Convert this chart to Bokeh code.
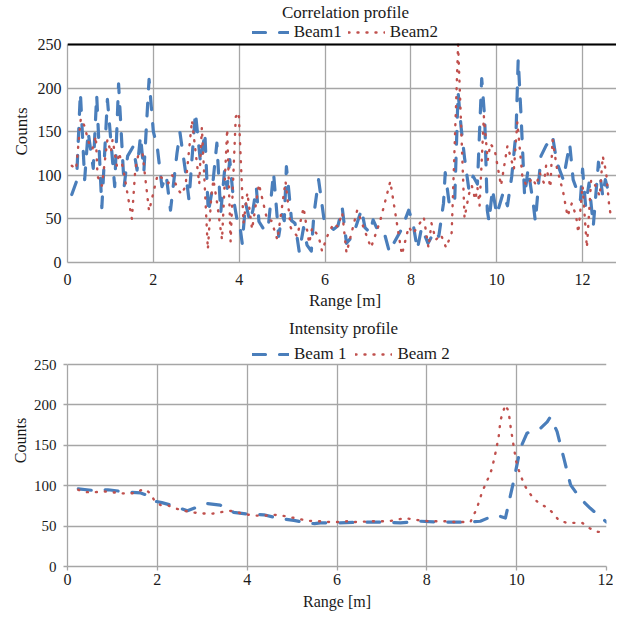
from bokeh.plotting import figure
from bokeh.layouts import column
from bokeh.models import Legend, LegendItem, Label, Span, FixedTicker, Range1d
from bokeh.embed import file_html
from bokeh.resources import INLINE

FONT = "Liberation Serif"
BLUE = "#4A7EBB"
RED = "#C0504D"
GRID = "#A6A6A6"
TXT = "#1a1a1a"

# ---------------- Correlation profile ----------------
corr_title = "Correlation profile"
corr_labels = ["Beam1", "Beam2"]
corr_x1 = [0.10, 0.21, 0.30, 0.40, 0.48, 0.60, 0.68, 0.80, 0.93, 1.10, 1.19, 1.32, 1.40, 1.53, 1.62,
           1.70, 1.78, 1.90, 2.00, 2.09, 2.20, 2.30, 2.40, 2.55, 2.62, 2.75, 2.83, 2.98, 3.10, 3.20,
           3.28, 3.37, 3.48, 3.57, 3.66, 3.72, 3.78, 3.86, 3.95, 4.00, 4.07, 4.15, 4.25, 4.32, 4.40,
           4.46, 4.60, 4.68, 4.80, 4.87, 4.92, 5.00, 5.05, 5.10, 5.16, 5.22, 5.30, 5.40, 5.50, 5.58,
           5.68, 5.74, 5.85, 5.98, 6.07, 6.20, 6.30, 6.40, 6.50, 6.60, 6.70, 6.85, 6.93, 7.05, 7.12,
           7.20, 7.30, 7.38, 7.50, 7.60, 7.78, 7.95, 8.05, 8.15, 8.25, 8.40, 8.55, 8.65, 8.76, 8.80,
           8.90, 9.02, 9.10, 9.17, 9.25, 9.35, 9.45, 9.55, 9.65, 9.72, 9.78, 9.82, 9.90, 10.00, 10.15,
           10.25, 10.35, 10.45, 10.50, 10.57, 10.65, 10.73, 10.85, 10.90, 11.03, 11.15, 11.30, 11.40,
           11.55, 11.70, 11.78, 11.95, 12.00, 12.07, 12.15, 12.25, 12.37, 12.47, 12.53, 12.65]
corr_y1 = [78, 93, 195, 95, 150, 108, 192, 63, 187, 87, 205, 87, 122, 133, 106,
           145, 105, 210, 150, 133, 87, 100, 60, 125, 149, 104, 72, 172, 114, 149,
           57, 83, 137, 57, 106, 85, 118, 75, 49, 48, 22, 68, 47, 60, 86,
           47, 36, 42, 103, 61, 30, 55, 48, 110, 80, 48, 45, 12, 40, 20,
           13, 55, 95, 48, 42, 38, 42, 63, 22, 28, 38, 61, 40, 34, 49,
           40, 41, 34, 12, 22, 38, 60, 45, 15, 40, 22, 36, 30, 68, 103,
           65, 70, 195, 155, 120, 84, 99, 90, 211, 165, 60, 47, 84, 55, 80,
           65, 99, 150, 233, 165, 76, 107, 68, 47, 122, 134, 145, 115,
           95, 136, 95, 72, 107, 65, 91, 42, 115, 76, 95, 72]
corr_x2 = [0.10, 0.20, 0.31, 0.39, 0.50, 0.58, 0.66, 0.70, 0.80, 0.93, 1.01, 1.05, 1.15, 1.20, 1.30,
           1.40, 1.50, 1.58, 1.66, 1.75, 1.90, 2.10, 2.20, 2.35, 2.44, 2.57, 2.66, 2.75, 2.90, 3.07,
           3.13, 3.27, 3.35, 3.40, 3.48, 3.60, 3.72, 3.80, 3.92, 3.99, 4.10, 4.19, 4.30, 4.46, 4.65,
           4.75, 4.89, 5.08, 5.20, 5.35, 5.50, 5.63, 5.70, 5.85, 5.93, 6.05, 6.20, 6.30, 6.40, 6.50,
           6.75, 7.07, 7.28, 7.52, 7.79, 7.95, 8.05, 8.30, 8.41, 8.48, 8.58, 8.70, 8.82, 8.95, 9.10,
           9.25, 9.35, 9.42, 9.50, 9.55, 9.60, 9.70, 9.79, 9.85, 9.95, 10.10, 10.25, 10.35, 10.40,
           10.48, 10.60, 10.70, 10.83, 10.92, 11.00, 11.10, 11.15, 11.25, 11.30, 11.40, 11.55, 11.65,
           11.75, 11.85, 11.90, 12.00, 12.10, 12.20, 12.30, 12.40, 12.47, 12.55, 12.62, 12.65]
corr_y2 = [111, 107, 165, 157, 137, 130, 145, 99, 88, 141, 126, 141, 111, 126, 107,
           78, 50, 107, 126, 124, 59, 101, 97, 91, 100, 84, 78, 88, 163, 90,
           155, 15, 76, 95, 70, 26, 153, 24, 167, 172, 45, 80, 38, 90, 49,
           48, 26, 93, 40, 30, 63, 22, 40, 30, 13, 30, 45, 41, 57, 11,
           60, 17, 47, 93, 9, 41, 33, 52, 17, 45, 26, 32, 17, 34, 250,
           51, 78, 88, 72, 86, 65, 168, 117, 136, 130, 88, 134, 116, 107,
           161, 97, 88, 97, 88, 103, 91, 111, 86, 141, 109, 80, 53,
           68, 53, 34, 88, 17, 95, 88, 76, 122, 103, 65, 56]

# ---------------- Intensity profile ----------------
int_title = "Intensity profile"
int_labels = ["Beam 1", "Beam 2"]
int_x1 = [0.24, 0.60, 0.90, 1.33, 1.63, 1.78, 1.93, 2.10, 2.30, 2.67, 3.10, 3.40, 3.70, 4.00, 4.37,
          4.67, 5.04, 5.33, 5.50, 5.63, 6.00, 6.67, 7.00, 7.41, 7.86, 8.30, 8.90, 9.19, 9.49, 9.64,
          9.75, 9.93, 10.08, 10.23, 10.53, 10.68, 10.75, 10.90, 11.05, 11.20, 11.42, 11.64, 12.00]
int_y1 = [96, 94, 95, 92, 91, 88, 81, 79, 76, 69, 78, 76, 67, 65, 64,
          60, 57, 54, 53, 54, 54, 55, 55, 54, 56, 55, 55, 56, 63, 62,
          60, 105, 146, 165, 171, 179, 185, 167, 134, 101, 84, 72, 55]
int_x2 = [0.24, 0.40, 0.63, 0.80, 0.96, 1.15, 1.33, 1.50, 1.70, 1.84, 1.93, 2.07, 2.22, 2.40, 2.60,
          2.78, 2.96, 3.15, 3.33, 3.48, 3.67, 3.85, 4.04, 4.20, 4.40, 4.60, 4.78, 4.96, 5.15, 5.30,
          5.48, 5.63, 5.85, 6.00, 6.22, 6.40, 6.78, 6.96, 7.15, 7.33, 7.52, 7.70, 8.04, 8.22, 8.45,
          8.60, 8.80, 8.97, 9.04, 9.12, 9.23, 9.30, 9.38, 9.45, 9.53, 9.60, 9.64, 9.70, 9.75, 9.82,
          9.87, 9.93, 9.99, 10.05, 10.10, 10.17, 10.27, 10.38, 10.53, 10.68, 10.83, 10.94, 11.12,
          11.30, 11.46, 11.60, 11.79, 11.98]
int_y2 = [95, 92, 92, 93, 92, 91, 90, 91, 96, 91, 82, 76, 76, 72, 69,
          67, 66, 65, 66, 68, 69, 66, 64, 63, 63, 64, 63, 61, 59, 57,
          56, 56, 55, 55, 56, 55, 56, 56, 56, 58, 60, 58, 56, 56, 56,
          55, 55, 55, 63, 73, 92, 101, 111, 121, 141, 161, 181, 192, 200, 192,
          171, 150, 130, 119, 111, 101, 92, 84, 77, 73, 65, 57, 54,
          54, 54, 48, 43, 42]

x_ticks = [0, 2, 4, 6, 8, 10, 12]
y_ticks = [0, 50, 100, 150, 200, 250]
y_max = 250
x_label = "Range [m]"
y_label = "Counts"


def make_panel(title, labels, xa, ya, xb, yb, x_end, fw, plot_h, head_h, mb, tick_out,
               xt_size, yt_size, al_size, x_std, y_std, xl_std, yl_std,
               title_xy, legend_xy, legend_spacing, top_black):
    # frame covers the plotting area plus a header strip (title + legend) above it
    fh = plot_h + head_h
    y_end = y_max * fh / plot_h
    p = figure(frame_width=fw, frame_height=fh,
               x_range=Range1d(0, x_end), y_range=Range1d(0, y_end),
               output_backend="svg", toolbar_location=None,
               min_border_left=mb[0], min_border_right=mb[1],
               min_border_top=mb[2], min_border_bottom=mb[3],
               background_fill_color="white", border_fill_color="white")
    p.outline_line_color = None
    p.xaxis.ticker = FixedTicker(ticks=x_ticks)
    p.yaxis.ticker = FixedTicker(ticks=y_ticks)
    p.yaxis.bounds = (0, y_max)
    p.xgrid.cross_bounds = (0, y_max)
    p.grid.grid_line_color = GRID
    p.grid.grid_line_width = 1.3
    p.axis.axis_line_color = GRID
    p.axis.axis_line_width = 1.3
    p.axis.major_tick_line_color = GRID
    p.axis.major_tick_line_width = 1.3
    p.axis.major_tick_in = 0
    p.axis.major_tick_out = tick_out
    p.axis.minor_tick_line_color = None
    p.axis.major_label_text_font = FONT
    p.axis.major_label_text_color = TXT
    p.axis.axis_label_text_font = FONT
    p.axis.axis_label_text_font_style = "normal"
    p.axis.axis_label_text_color = TXT
    p.axis.axis_label_text_font_size = al_size
    p.xaxis.major_label_text_font_size = xt_size
    p.yaxis.major_label_text_font_size = yt_size
    p.xaxis.major_label_standoff = x_std
    p.yaxis.major_label_standoff = y_std
    p.xaxis.axis_label_standoff = xl_std
    p.yaxis.axis_label_standoff = yl_std
    p.xaxis.axis_label = x_label
    p.yaxis.axis_label = y_label

    if top_black:
        p.add_layout(Span(location=y_max, dimension="width", line_color="black", line_width=2))

    r1 = p.line(xa, ya, line_color=BLUE, line_width=3.2, line_dash="13 14", line_cap="round",
                line_join="round")
    r2 = p.line(xb, yb, line_color=RED, line_width=2.4, line_dash="1 8", line_cap="round",
                line_join="round")

    leg = Legend(items=[LegendItem(label=labels[0], renderers=[r1]),
                        LegendItem(label=labels[1], renderers=[r2])],
                 orientation="horizontal", location=legend_xy,
                 glyph_width=37, glyph_height=18, label_height=18, label_standoff=5,
                 spacing=legend_spacing, padding=0, margin=0,
                 border_line_color=None, background_fill_alpha=0,
                 label_text_font=FONT, label_text_font_size="17px", label_text_color=TXT)
    p.add_layout(leg)

    p.add_layout(Label(x=title_xy[0], y=title_xy[1], x_units="screen", y_units="screen",
                       text=title, text_font=FONT, text_font_size="17px", text_color=TXT,
                       text_align="center", text_baseline="middle"))
    return p


p1 = make_panel(corr_title, corr_labels, corr_x1, corr_y1, corr_x2, corr_y2,
                x_end=12.93, fw=555, plot_h=218, head_h=44, mb=(61, 0, 0, 52), tick_out=0,
                xt_size="16px", yt_size="16px", al_size="17px",
                x_std=11, y_std=6, xl_std=3, yl_std=4,
                title_xy=(278, 250), legend_xy=(192, 220), legend_spacing=6, top_black=True)

p2 = make_panel(int_title, int_labels, int_x1, int_y1, int_x2, int_y2,
                x_end=12.0, fw=539, plot_h=202, head_h=50, mb=(67, 7, 0, 47), tick_out=4,
                xt_size="16px", yt_size="15px", al_size="16px",
                x_std=3, y_std=7, xl_std=5, yl_std=2,
                title_xy=(276, 238), legend_xy=(185, 202), legend_spacing=9, top_black=False)

layout = column(p1, p2, spacing=0)
open("out.html", "w").write(file_html(layout, INLINE))
